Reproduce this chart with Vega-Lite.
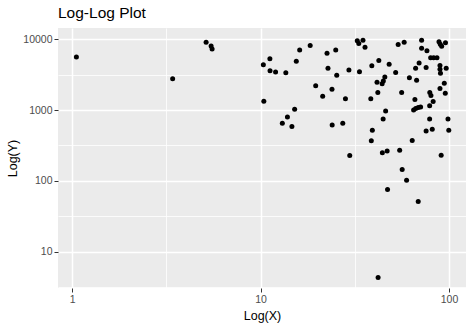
{
  "$schema": "https://vega.github.io/schema/vega-lite/v6.json",
  "width": 408,
  "height": 260,
  "autosize": "none",
  "padding": {"left": 58, "top": 28, "right": 8, "bottom": 41},
  "background": "white",
  "title": {"text": "Log-Log Plot", "anchor": "start", "frame": "group", "fontSize": 15.5, "font": "Liberation Sans", "fontWeight": "normal", "color": "black", "offset": 7},
  "config": {"view": {"fill": "#EBEBEB", "stroke": null}, "font": "Liberation Sans"},
  "data": {"values": [
    {"x": 1.054, "y": 5641}, {"x": 3.417, "y": 2785}, {"x": 5.143, "y": 9100}, {"x": 5.467, "y": 8069}, {"x": 5.534, "y": 7317},
    {"x": 10.35, "y": 4391}, {"x": 11.21, "y": 5338}, {"x": 11.23, "y": 3601}, {"x": 12.02, "y": 3463}, {"x": 13.62, "y": 3386},
    {"x": 10.41, "y": 1336}, {"x": 15.48, "y": 4906}, {"x": 16.13, "y": 7084}, {"x": 18.34, "y": 8200}, {"x": 22.53, "y": 6363},
    {"x": 25.06, "y": 7084}, {"x": 22.8, "y": 3907}, {"x": 25.37, "y": 3111}, {"x": 29.45, "y": 3696}, {"x": 33.5, "y": 3486},
    {"x": 19.62, "y": 2218}, {"x": 23.94, "y": 1980}, {"x": 21.37, "y": 1572}, {"x": 28.22, "y": 1449}, {"x": 15.17, "y": 1030},
    {"x": 13.89, "y": 802}, {"x": 13.05, "y": 653}, {"x": 14.67, "y": 585}, {"x": 24.0, "y": 618}, {"x": 27.31, "y": 653},
    {"x": 32.61, "y": 9555}, {"x": 33.21, "y": 8752}, {"x": 34.96, "y": 9712}, {"x": 35.84, "y": 7734}, {"x": 38.95, "y": 4250},
    {"x": 42.43, "y": 5035}, {"x": 48.14, "y": 4448}, {"x": 41.5, "y": 2486}, {"x": 44.18, "y": 2360}, {"x": 44.83, "y": 2585},
    {"x": 45.66, "y": 2944}, {"x": 52.12, "y": 3408}, {"x": 41.91, "y": 1767}, {"x": 38.47, "y": 1449}, {"x": 56.09, "y": 1767},
    {"x": 53.74, "y": 8472}, {"x": 57.83, "y": 9130}, {"x": 71.57, "y": 9743}, {"x": 71.57, "y": 7486}, {"x": 76.38, "y": 6902},
    {"x": 79.92, "y": 5514}, {"x": 82.91, "y": 5514}, {"x": 86.35, "y": 5514}, {"x": 88.49, "y": 9279}, {"x": 89.9, "y": 8527},
    {"x": 91.46, "y": 7989}, {"x": 95.81, "y": 8954}, {"x": 69.41, "y": 4642}, {"x": 66.51, "y": 3907}, {"x": 75.62, "y": 4010},
    {"x": 89.57, "y": 4279}, {"x": 89.57, "y": 3781}, {"x": 90.12, "y": 3321}, {"x": 96.64, "y": 3907}, {"x": 61.64, "y": 2869},
    {"x": 67.33, "y": 2644}, {"x": 94.41, "y": 2399}, {"x": 89.57, "y": 2025}, {"x": 95.57, "y": 1733}, {"x": 79.07, "y": 1767},
    {"x": 80.22, "y": 1613}, {"x": 82.41, "y": 1327}, {"x": 65.93, "y": 1416}, {"x": 78.96, "y": 1154}, {"x": 64.9, "y": 1006},
    {"x": 66.59, "y": 1057}, {"x": 68.65, "y": 1092}, {"x": 70.7, "y": 1110}, {"x": 46.11, "y": 968}, {"x": 44.73, "y": 751},
    {"x": 78.96, "y": 751}, {"x": 98.79, "y": 751}, {"x": 39.19, "y": 520}, {"x": 38.71, "y": 370}, {"x": 75.62, "y": 505},
    {"x": 81.51, "y": 537}, {"x": 99.74, "y": 520}, {"x": 63.8, "y": 371}, {"x": 29.74, "y": 228}, {"x": 44.3, "y": 249},
    {"x": 46.97, "y": 263}, {"x": 54.74, "y": 271}, {"x": 90.89, "y": 229}, {"x": 56.44, "y": 144}, {"x": 59.57, "y": 102},
    {"x": 47.2, "y": 75.4}, {"x": 68.65, "y": 51.0}, {"x": 42.06, "y": 4.31}
  ]},
  "mark": {"type": "circle", "color": "black", "size": 25, "opacity": 1},
  "encoding": {
    "x": {
      "field": "x", "type": "quantitative",
      "scale": {"type": "log", "domain": [0.842, 123.1], "nice": false},
      "axis": {
        "title": "Log(X)", "values": [1, 3.1623, 10, 31.623, 100], "format": "d",
        "labelExpr": "(datum.value == 1 || datum.value == 10 || datum.value == 100) ? datum.label : ''",
        "domain": false, "grid": true, "gridColor": "white",
        "gridWidth": {"condition": {"test": "datum.value == 1 || datum.value == 10 || datum.value == 100", "value": 1.5}, "value": 0.8},
        "tickColor": "#333333", "tickSize": 4, "tickWidth": 1,
        "tickOpacity": {"condition": {"test": "datum.value == 1 || datum.value == 10 || datum.value == 100", "value": 1}, "value": 0},
        "labelColor": "#4D4D4D", "labelFontSize": 10.5, "labelPadding": 2, "labelFont": "Liberation Sans",
        "titleFontSize": 12.5, "titleFontWeight": "normal", "titleColor": "black", "titlePadding": 5, "titleFont": "Liberation Sans"
      }
    },
    "y": {
      "field": "y", "type": "quantitative",
      "scale": {"type": "log", "domain": [3.05, 14490], "nice": false},
      "axis": {
        "title": "Log(Y)", "values": [3.1623, 10, 31.623, 100, 316.23, 1000, 3162.3, 10000], "format": "d",
        "labelExpr": "(datum.value == 10 || datum.value == 100 || datum.value == 1000 || datum.value == 10000) ? datum.label : ''",
        "domain": false, "grid": true, "gridColor": "white",
        "gridWidth": {"condition": {"test": "datum.value == 10 || datum.value == 100 || datum.value == 1000 || datum.value == 10000", "value": 1.5}, "value": 0.8},
        "tickColor": "#333333", "tickSize": 4, "tickWidth": 1,
        "tickOpacity": {"condition": {"test": "datum.value == 10 || datum.value == 100 || datum.value == 1000 || datum.value == 10000", "value": 1}, "value": 0},
        "labelColor": "#4D4D4D", "labelFontSize": 10.5, "labelPadding": 2, "labelFont": "Liberation Sans",
        "titleFontSize": 12.5, "titleFontWeight": "normal", "titleColor": "black", "titlePadding": 3, "titleFont": "Liberation Sans"
      }
    }
  }
}
